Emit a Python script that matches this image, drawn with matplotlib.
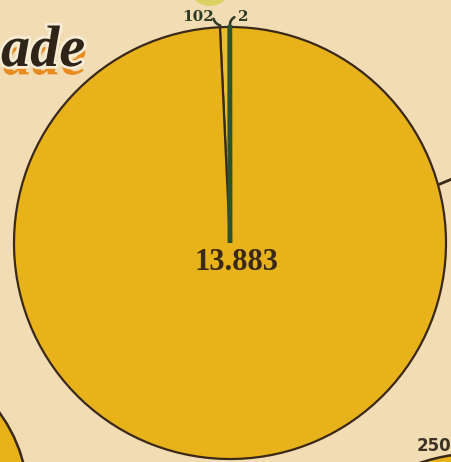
import matplotlib
matplotlib.use('Agg')
import matplotlib.pyplot as plt
import matplotlib.patheffects as pe
from matplotlib.patches import Circle

# values of the big circle (share of the trade)
slice_labels = ['2', '102', '13.883']
slice_values = [2, 102, 13883]
slice_colors = ['#2c5230', '#ebbd2c', '#e8b31a']
other_label = '250'
title_part = 'ade'

bg = '#f1dcb3'
ink = '#3a2818'

fig = plt.figure(figsize=(4.52, 4.62), dpi=100)
fig.patch.set_facecolor(bg)
ax = fig.add_axes([0, 0, 1, 1])
ax.set_facecolor(bg)

# neighbour circles, cut by the frame
ax.add_patch(Circle((210, 462 + 16), 22, facecolor='#d9d05c', edgecolor='none', alpha=0.9))
ax.add_patch(Circle((-120, 462 - 500), 148, facecolor='#e8b31a', edgecolor=ink, linewidth=1.8))
ax.add_patch(Circle((480, 462 - 640), 187, facecolor='#e8b31a', edgecolor=ink, linewidth=1.8))
ax.plot([440, 452], [462 - 184, 462 - 179], color=ink, linewidth=2)

# main pie
wedges, _ = ax.pie(slice_values, colors=slice_colors, startangle=90, counterclock=True,
                   center=(230, 462 - 243), radius=216, frame=True,
                   wedgeprops=dict(edgecolor=ink, linewidth=1.6))
wedges[0].set_edgecolor(slice_colors[0])
wedges[0].set_linewidth(3.2)
wedges[0].set_zorder(3)
ax.set_xlim(0, 452)
ax.set_ylim(0, 462)
ax.set_aspect('equal')
ax.axis('off')

ax.text(236, 462 - 262, slice_labels[2], ha='center', va='center', fontsize=22,
        fontweight='bold', family='Liberation Serif', color=ink)

# small slice labels with hooked leaders
ax.text(198, 462 - 17, slice_labels[1], ha='center', va='center', fontsize=11,
        fontweight='bold', family='DejaVu Serif', color='#2f3a22')
ax.text(243, 462 - 17, slice_labels[0], ha='center', va='center', fontsize=11,
        fontweight='bold', family='DejaVu Serif', color='#2f3a22')
ax.annotate('', xy=(223, 462 - 26), xytext=(213, 462 - 16),
            arrowprops=dict(arrowstyle='-', color='#2f3a22', lw=1.8,
                            connectionstyle='arc3,rad=0.4'))
ax.annotate('', xy=(230, 462 - 27), xytext=(237, 462 - 16),
            arrowprops=dict(arrowstyle='-', color='#2f3a22', lw=1.8,
                            connectionstyle='arc3,rad=0.4'))

ax.text(451, 462 - 446, other_label, ha='right', va='center', fontsize=12,
        fontweight='bold', family='DejaVu Sans', color='#3d3226')

# title remnant in the top-left corner
ax.text(1, 462 - 66, title_part, ha='left', va='baseline', fontsize=42,
        fontweight='bold', style='italic', family='Liberation Serif',
        color='#2e2418',
        path_effects=[pe.SimplePatchShadow(offset=(1, -6), shadow_rgbFace='#e98a1e', alpha=1),
                      pe.Stroke(linewidth=4, foreground='#f8ecd4'),
                      pe.Normal()])

plt.savefig('out.png', dpi=100, facecolor=bg)
